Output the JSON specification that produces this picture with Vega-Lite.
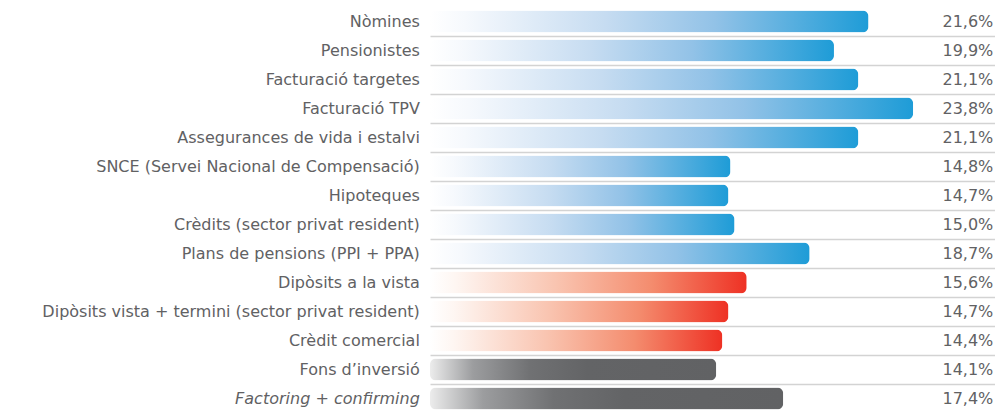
{
  "$schema": "https://vega.github.io/schema/vega-lite/v6.json",
  "width": 995,
  "height": 406,
  "autosize": {"type": "none"},
  "padding": {"left": 0, "top": 7, "right": 0, "bottom": 0},
  "background": "white",
  "config": {"view": {"stroke": null}},
  "data": {"values": [
    {"concepte": "Nòmines", "valor": 21.6, "etiqueta": "21,6%", "grup": "A"},
    {"concepte": "Pensionistes", "valor": 19.9, "etiqueta": "19,9%", "grup": "A"},
    {"concepte": "Facturació targetes", "valor": 21.1, "etiqueta": "21,1%", "grup": "A"},
    {"concepte": "Facturació TPV", "valor": 23.8, "etiqueta": "23,8%", "grup": "A"},
    {"concepte": "Assegurances de vida i estalvi", "valor": 21.1, "etiqueta": "21,1%", "grup": "A"},
    {"concepte": "SNCE (Servei Nacional de Compensació)", "valor": 14.8, "etiqueta": "14,8%", "grup": "A"},
    {"concepte": "Hipoteques", "valor": 14.7, "etiqueta": "14,7%", "grup": "A"},
    {"concepte": "Crèdits (sector privat resident)", "valor": 15.0, "etiqueta": "15,0%", "grup": "A"},
    {"concepte": "Plans de pensions (PPI + PPA)", "valor": 18.7, "etiqueta": "18,7%", "grup": "A"},
    {"concepte": "Dipòsits a la vista", "valor": 15.6, "etiqueta": "15,6%", "grup": "B"},
    {"concepte": "Dipòsits vista + termini (sector privat resident)", "valor": 14.7, "etiqueta": "14,7%", "grup": "B"},
    {"concepte": "Crèdit comercial", "valor": 14.4, "etiqueta": "14,4%", "grup": "B"},
    {"concepte": "Fons d’inversió", "valor": 14.1, "etiqueta": "14,1%", "grup": "C"},
    {"concepte": "Factoring + confirming", "valor": 17.4, "etiqueta": "17,4%", "grup": "C"}
  ]},
  "encoding": {
    "y": {
      "field": "concepte", "type": "nominal", "sort": null,
      "scale": {"paddingInner": 0, "paddingOuter": 0},
      "axis": {"title": null, "labels": false, "ticks": false, "domain": false, "grid": true, "bandPosition": 1, "gridColor": "#d3d3d3", "gridWidth": 1.5}
    }
  },
  "layer": [
    {
      "transform": [{"filter": "datum.grup === 'A'"}],
      "mark": {"type": "bar", "height": 22, "cornerRadius": 6,
        "color": {"gradient": "linear", "x1": 0, "x2": 1, "y1": 0, "y2": 0, "stops": [
          {"offset": 0, "color": "#ffffff"},
          {"offset": 0.08, "color": "#f6f9fd"},
          {"offset": 0.4, "color": "#c6dcf1"},
          {"offset": 0.65, "color": "#92c2e7"},
          {"offset": 1, "color": "#1e9cd7"}]}},
      "encoding": {
        "x": {"field": "valor", "type": "quantitative", "scale": {"domain": [0, 28], "range": [430, 998.4], "nice": false, "zero": true}, "axis": null}
      }
    },
    {
      "transform": [{"filter": "datum.grup === 'B'"}],
      "mark": {"type": "bar", "height": 22, "cornerRadius": 6,
        "color": {"gradient": "linear", "x1": 0, "x2": 1, "y1": 0, "y2": 0, "stops": [
          {"offset": 0, "color": "#ffffff"},
          {"offset": 0.08, "color": "#fef6f2"},
          {"offset": 0.4, "color": "#f9c4b0"},
          {"offset": 0.7, "color": "#f48c6e"},
          {"offset": 1, "color": "#ee3124"}]}},
      "encoding": {
        "x": {"field": "valor", "type": "quantitative"}
      }
    },
    {
      "transform": [{"filter": "datum.grup === 'C'"}],
      "mark": {"type": "bar", "height": 22, "cornerRadius": 6,
        "color": {"gradient": "linear", "x1": 0, "x2": 1, "y1": 0, "y2": 0, "stops": [
          {"offset": 0, "color": "#ececec"},
          {"offset": 0.15, "color": "#9c9d9f"},
          {"offset": 0.35, "color": "#707173"},
          {"offset": 0.55, "color": "#636466"},
          {"offset": 1, "color": "#616264"}]}},
      "encoding": {
        "x": {"field": "valor", "type": "quantitative"}
      }
    },
    {
      "transform": [{"filter": "datum.concepte !== 'Factoring + confirming'"}],
      "mark": {"type": "text", "align": "right", "baseline": "middle", "font": "DejaVu Sans", "fontSize": 16, "color": "#616163"},
      "encoding": {
        "x": {"datum": -0.5, "type": "quantitative"},
        "text": {"field": "concepte"}
      }
    },
    {
      "transform": [{"filter": "datum.concepte === 'Factoring + confirming'"}],
      "mark": {"type": "text", "align": "right", "baseline": "middle", "font": "DejaVu Sans", "fontSize": 16, "fontStyle": "italic", "color": "#616163"},
      "encoding": {
        "x": {"datum": -0.5, "type": "quantitative"},
        "text": {"field": "concepte"}
      }
    },
    {
      "mark": {"type": "text", "align": "right", "baseline": "middle", "font": "DejaVu Sans", "fontSize": 16, "color": "#616163"},
      "encoding": {
        "x": {"datum": 27.75, "type": "quantitative"},
        "text": {"field": "etiqueta"}
      }
    }
  ]
}
